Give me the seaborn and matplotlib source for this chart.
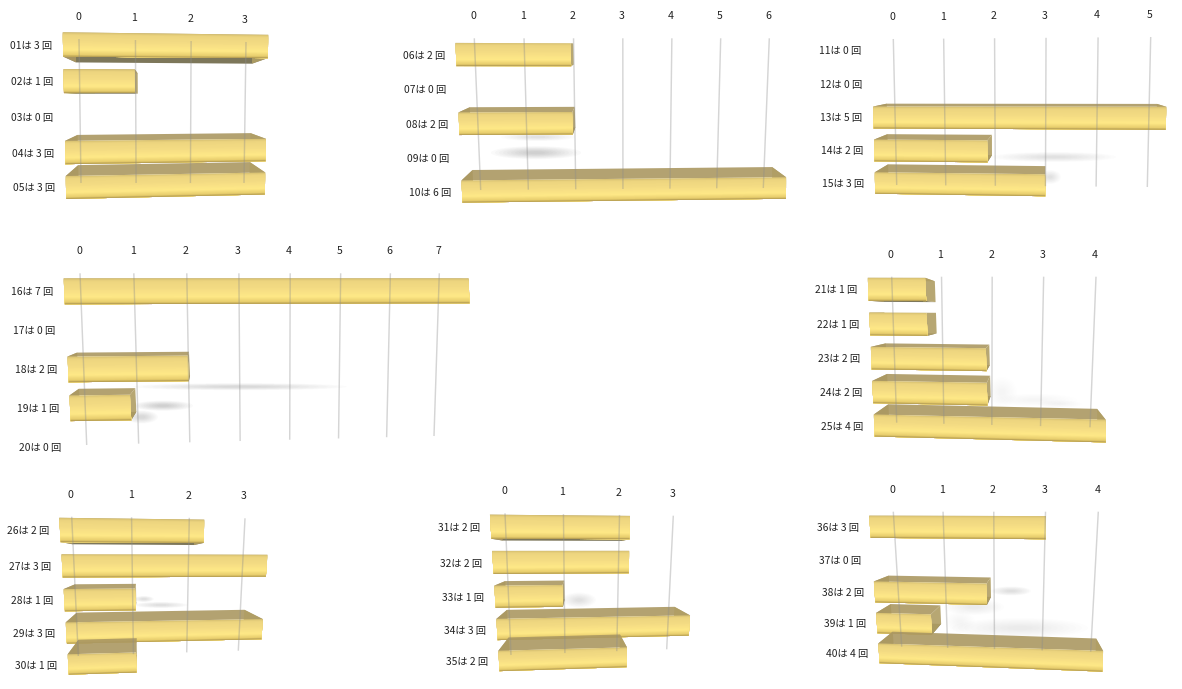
import numpy as np
import matplotlib
matplotlib.use('Agg')
import matplotlib.pyplot as plt
import seaborn as sns
from matplotlib.colors import LinearSegmentedColormap
from matplotlib.patches import Ellipse, Polygon
from matplotlib.transforms import Affine2D, IdentityTransform, Transform

sns.set_theme(style='white')
plt.rcParams['font.family'] = ['Noto Sans CJK JP', 'DejaVu Sans']

W, H = 1182, 689

labels_a = ['01は 3 回', '02は 1 回', '03は 0 回', '04は 3 回', '05は 3 回']
labels_b = ['06は 2 回', '07は 0 回', '08は 2 回', '09は 0 回', '10は 6 回']
labels_c = ['11は 0 回', '12は 0 回', '13は 5 回', '14は 2 回', '15は 3 回']
labels_d = ['16は 7 回', '17は 0 回', '18は 2 回', '19は 1 回', '20は 0 回']
labels_e = ['21は 1 回', '22は 1 回', '23は 2 回', '24は 2 回', '25は 4 回']
labels_f = ['26は 2 回', '27は 3 回', '28は 1 回', '29は 3 回', '30は 1 回']
labels_g = ['31は 2 回', '32は 2 回', '33は 1 回', '34は 3 回', '35は 2 回']
labels_h = ['36は 3 回', '37は 0 回', '38は 2 回', '39は 1 回', '40は 4 回']

values_a = [3, 1, 0, 3, 3]
values_b = [2, 0, 2, 0, 6]
values_c = [0, 0, 5, 2, 3]
values_d = [7, 0, 2, 1, 0]
values_e = [1, 1, 2, 2, 4]
values_f = [2, 3, 1, 3, 1]
values_g = [2, 2, 1, 3, 2]
values_h = [3, 0, 2, 1, 4]

# front = plane of the bar fronts at first/last row and 0/largest value (image pixels)
# grid = same for the gridlines, vp and k = vanishing point and depth of the boxes
panels = [
    dict(labels=labels_a, values=values_a,
         front=[(63, 44.5), (268, 46.5), (66, 187.5), (265, 183.5)], bend=0.03,
         grid=[(79, 39), (246, 42), (81, 183), (244, 183)], vp=(155, 98), k=0.86),
    dict(labels=labels_b, values=values_b,
         front=[(456, 54.5), (787, 55), (462, 191.5), (786, 188)], bend=0.03,
         grid=[(474.3, 38.3), (769.3, 38.3), (480.7, 190), (763.3, 188)], vp=(605, 45), k=0.923),
    dict(labels=labels_c, values=values_c,
         front=[(872, 50.4), (1168, 48), (875, 183), (1164, 186.8)], bend=0,
         grid=[(893.3, 39), (1150.7, 37), (896.7, 185), (1147.3, 187)], vp=(1046, 70), k=0.922),
    dict(labels=labels_d, values=values_d,
         front=[(64.3, 291.3), (469, 290.8), (72, 447), (474, 440.5)], bend=0.02,
         grid=[(80, 273.3), (439.3, 273.3), (86.7, 445), (434, 436)], vp=(205, 300), k=0.93),
    dict(labels=labels_e, values=values_e,
         front=[(868.3, 289.3), (1104.5, 290), (874.3, 425.5), (1105.7, 431)], bend=0,
         grid=[(891.7, 276.7), (1096, 276.7), (896.7, 422.7), (1090, 427.3)], vp=(1020, 312), k=0.9),
    dict(labels=labels_f, values=values_f,
         front=[(60, 530), (269, 532), (68.3, 664.5), (260, 659)], bend=0.04,
         grid=[(71.7, 516.7), (245, 518.3), (78.3, 656), (238.3, 650.7)], vp=(140, 557), k=0.85),
    dict(labels=labels_g, values=values_g,
         front=[(490.7, 526.8), (695.5, 528), (499, 661), (687.5, 655.5)], bend=0,
         grid=[(505, 513.3), (673.3, 515.7), (511, 655), (666.7, 649.3)], vp=(575, 552), k=0.865),
    dict(labels=labels_h, values=values_h,
         front=[(870, 526.8), (1107.6, 528), (879, 653.3), (1102.7, 661.3)], bend=0,
         grid=[(893.3, 511.7), (1098.3, 511.7), (901.7, 646.7), (1090.7, 651.7)], vp=(1030, 520), k=0.905),
]

# soft floor shadows: centre x, centre y, width, height, strength
shadows = [
    (538, 137, 74, 8, 0.4), (536, 152.7, 90, 13, 0.9),
    (1054, 157, 124, 10, 0.5), (1050, 177, 22, 14, 0.4),
    (240, 386.7, 214, 7, 0.7), (163, 405.7, 60, 10, 0.9), (142, 417, 32, 13, 0.7),
    (1002, 392, 30, 30, 0.15), (1035, 400, 84, 13, 0.15), (1060, 404, 44, 8, 0.12),
    (144, 599, 20, 6, 0.6), (161, 605, 54, 6, 0.6),
    (579, 600, 34, 15, 0.4),
    (1011, 591, 40, 9, 0.6), (974, 607, 60, 16, 0.25), (960, 622, 30, 22, 0.15), (1020, 628, 136, 20, 0.2),
]

bar_cmap = LinearSegmentedColormap.from_list('bar', [
    (0.0, '#d6bf70'), (0.1, '#ecd47f'), (0.45, '#f6de84'),
    (0.72, '#ffe987'), (0.93, '#e6cc6c'), (1.0, '#a8914c')])


class Tilt(Transform):
    # projective map from four source points to four target points
    input_dims = 2
    output_dims = 2

    def __init__(self, src, dst, bend=0):
        super().__init__()
        self.x0, self.x1 = src[0][0], src[1][0]
        self.bend = bend
        rows, rhs = [], []
        for (x, y), (u, v) in zip(src, dst):
            rows.append([x, y, 1, 0, 0, 0, -u * x, -u * y])
            rows.append([0, 0, 0, x, y, 1, -v * x, -v * y])
            rhs += [u, v]
        self.m = np.append(np.linalg.solve(np.array(rows), np.array(rhs)), 1).reshape(3, 3)

    def transform_non_affine(self, values):
        pts = np.asarray(values, dtype=float)
        u = (pts[:, 0] - self.x0) / (self.x1 - self.x0)
        u = u * (1 + self.bend) / (1 + self.bend * u)
        x = self.x0 + u * (self.x1 - self.x0)
        out = self.m @ np.column_stack([x, pts[:, 1], np.ones(len(pts))]).T
        return (out[:2] / out[2]).T


fig = plt.figure(figsize=(W / 100, H / 100), dpi=100, facecolor='white')
px = Affine2D().scale(1, -1).translate(0, H)

# the sheet holds the drawn boxes, the panel axes below it hold the seaborn scales
sheet = fig.add_axes([0, 0, 1, 1], zorder=2)
sheet.set_xlim(0, W)
sheet.set_ylim(H, 0)
sheet.set_autoscale_on(False)
sheet.patch.set_alpha(0)
sheet.axis('off')
for cx, cy, sw, sh, strength in shadows:
    for s in np.linspace(1, 0.2, 10):
        sheet.add_patch(Ellipse((cx, cy), sw * s, sh * s, color='#606060',
                                alpha=0.035 * strength, lw=0, zorder=1))


def add_face(pts, z, color, alpha=1.0):
    sheet.add_patch(Polygon(pts, closed=True, transform=IdentityTransform(), facecolor=color,
                            edgecolor='none', alpha=alpha, clip_on=False, zorder=z))


def draw_panel(p):
    labels, values = p['labels'], p['values']
    n = len(labels)
    vmax = max(values)
    xs = [c[0] for c in p['front']]
    ys = [c[1] for c in p['front']]
    ax = fig.add_axes([min(xs) / W, 1 - max(ys) / H, (max(xs) - min(xs)) / W,
                       (max(ys) - min(ys)) / H], zorder=1)
    sns.barplot(x=values, y=labels, orient='h', width=0.66, errorbar=None, ax=ax)
    ax.set_xlim(0, vmax)
    ax.set_ylim(n - 0.5, -0.5)
    ax.axis('off')

    src = ax.transData.transform([(0, 0), (vmax, 0), (0, n - 1), (vmax, n - 1)])
    front = ax.transData + Tilt(src, px.transform(p['front']), p['bend'])
    src = ax.transData.transform([(0, -0.5), (vmax, -0.5), (0, n - 0.5), (vmax, n - 0.5)])
    grid = ax.transData + Tilt(src, px.transform(p['grid']))

    vp = px.transform([p['vp']])[0]
    k = p['k']
    for i, bar in enumerate(list(ax.patches)):
        bar.set_visible(False)
        x0, y0, w, h = bar.get_x(), bar.get_y(), bar.get_width(), bar.get_height()
        if w == 0:
            continue
        z = 2 + i
        near = front.transform([(x0, y0), (x0 + w, y0), (x0 + w, y0 + h), (x0, y0 + h)])
        far = vp + k * (near - vp)
        faces = [([0, 1], '#ab9862'), ([3, 2], '#6f6848'), ([1, 2], '#b09e64'), ([0, 3], '#ab9862')]
        for idx, color in faces:
            pts = [near[idx[0]], near[idx[1]], far[idx[1]], far[idx[0]]]
            add_face(pts, z, color, 0.9)
        # each strip runs down to the bar's lower edge so no seams show between them
        for fr in np.linspace(0, 1, 30)[:-1]:
            a = near[0] + fr * (near[3] - near[0])
            b = near[1] + fr * (near[2] - near[1])
            add_face([a, b, near[2], near[3]], z + 0.5, bar_cmap(fr + 0.017))

    ticks = np.arange(vmax + 1)
    gl = sheet.vlines(ticks, -0.5, n - 0.5, colors='#8c8c8c', linewidth=1.05, alpha=0.36,
                      transform=grid, zorder=30)
    gl.set_clip_on(False)
    for t in ticks:
        sheet.annotate(str(t), xy=(t, -0.5), xycoords=grid, xytext=(-1, 22), textcoords='offset pixels',
                       ha='center', va='center', fontsize=7.6, color='#222222', annotation_clip=False)
    for i, label in enumerate(labels):
        sheet.annotate(label, xy=(0, i), xycoords=front, xytext=(-11, -1), textcoords='offset pixels',
                       ha='right', va='center', fontsize=7.4, color='#222222', annotation_clip=False)


for panel in panels:
    draw_panel(panel)

fig.savefig('out.png', dpi=100)
